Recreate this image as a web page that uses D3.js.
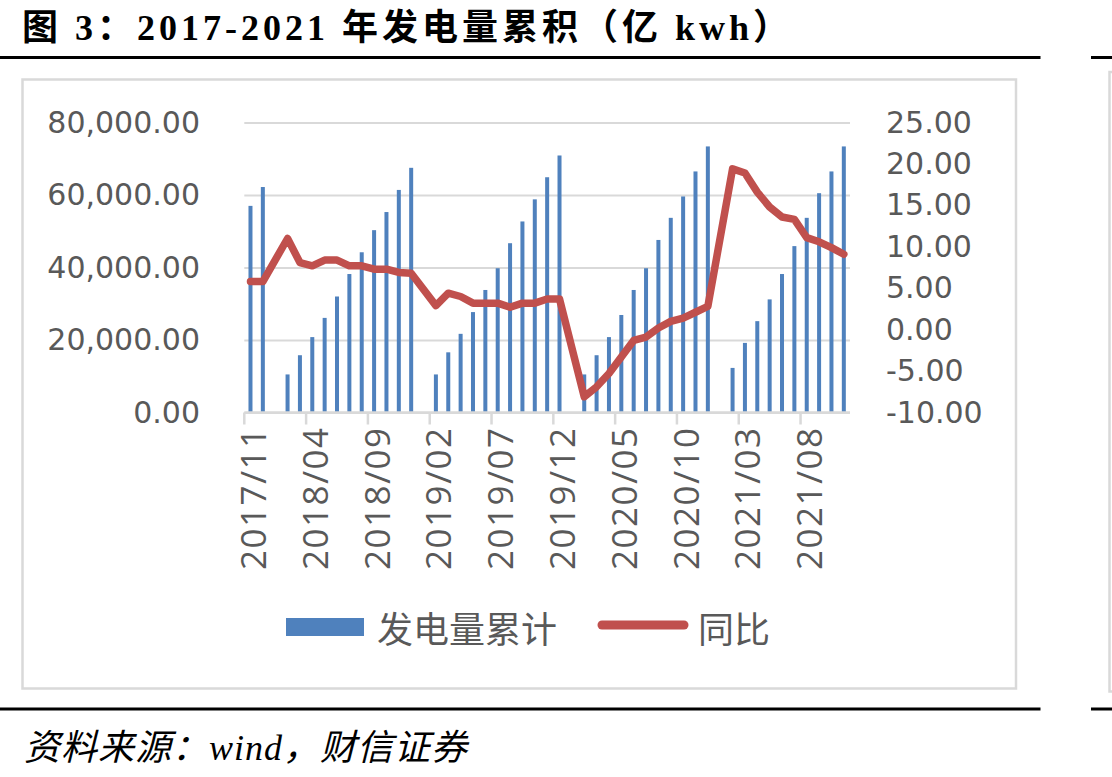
<!DOCTYPE html>
<html>
<head>
<meta charset="utf-8">
<script src="https://cdn.jsdelivr.net/npm/d3@7"></script>
<style>
  body { margin: 0; background: #fff; }
  svg { display: block; }
</style>
</head>
<body>
<div id="chart"></div>
<script>
// monthly data, January is not published so those months are absent
const months = [
  '2017/11', '2017/12',
  '2018/02', '2018/03', '2018/04', '2018/05', '2018/06', '2018/07', '2018/08', '2018/09', '2018/10', '2018/11', '2018/12',
  '2019/02', '2019/03', '2019/04', '2019/05', '2019/06', '2019/07', '2019/08', '2019/09', '2019/10', '2019/11', '2019/12',
  '2020/02', '2020/03', '2020/04', '2020/05', '2020/06', '2020/07', '2020/08', '2020/09', '2020/10', '2020/11', '2020/12',
  '2021/02', '2021/03', '2021/04', '2021/05', '2021/06', '2021/07', '2021/08', '2021/09', '2021/10', '2021/11'
]
const generation = [
  57000, 62200,
  10500, 15800, 20800, 26100, 32000, 38200, 44200, 50300, 55300, 61400, 67500,
  10500, 16600, 21700, 27700, 33800, 39800, 46700, 52700, 58800, 64900, 70900,
  10500, 15800, 20800, 26900, 33800, 39800, 47600, 53700, 59600, 66500, 73400,
  12300, 19200, 25200, 31200, 38200, 45900, 53700, 60500, 66500, 73400
]
const yoy = [
  5.8, 5.8,
  11.0, 8.1, 7.7, 8.4, 8.4, 7.7, 7.7, 7.3, 7.3, 6.9, 6.8,
  2.9, 4.4, 4.0, 3.2, 3.2, 3.2, 2.7, 3.2, 3.2, 3.7, 3.7,
  -8.1, -6.9, -5.3, -3.3, -1.3, -0.9, 0.2, 1.0, 1.4, 2.1, 2.8,
  19.4, 18.9, 16.6, 14.8, 13.6, 13.3, 11.1, 10.6, 9.9, 9.1
]
const tickLabels = ['2017/11', '2018/04', '2018/09', '2019/02', '2019/07', '2019/12', '2020/05', '2020/10', '2021/03', '2021/08']
const leftTicks = [0, 20000, 40000, 60000, 80000]
const rightTicks = [-10, -5, 0, 5, 10, 15, 20, 25]
const seriesNames = ['发电量累计', '同比']
const title = '图 3：2017-2021 年发电量累积（亿 kwh）'
const source = '资料来源：wind，财信证券'

const W = 1112
const H = 777
const plot = { left: 244.3, right: 850, top: 122.5, bottom: 412.5 }
const blue = '#4F81BD'
const red = '#C0504D'
const grid = '#D9D9D9'
const textGray = '#595959'
const axisFont = "'Open Sans', 'Noto Sans', sans-serif"
const valueFont = "'DejaVu Sans', sans-serif"
const cjkFont = "'Noto Sans CJK SC', sans-serif"

const svg = d3.select('#chart').append('svg')
  .attr('width', W)
  .attr('height', H)

// title, rules and frame
svg.append('text')
  .attr('x', 22)
  .attr('y', 40)
  .attr('font-family', "'Liberation Serif', 'Noto Sans CJK SC', serif")
  .attr('font-weight', 'bold')
  .attr('font-size', 36)
  .attr('letter-spacing', 4)
  .attr('fill', '#000')
  .text(title)
for (const y of [57.5, 709]) {
  svg.append('path').attr('d', `M0,${y}H1040.5`).attr('stroke', '#000').attr('stroke-width', 3)
  svg.append('path').attr('d', `M1091,${y}H1112`).attr('stroke', '#000').attr('stroke-width', 3)
}
svg.append('rect')
  .attr('x', 22.5).attr('y', 79.5)
  .attr('width', 993.5).attr('height', 609)
  .attr('fill', 'none').attr('stroke', grid).attr('stroke-width', 2.5)
svg.append('path')
  .attr('d', 'M1113,72H1109.5V691.5H1113')
  .attr('fill', 'none').attr('stroke', grid).attr('stroke-width', 2.5)
svg.append('text')
  .attr('x', 24)
  .attr('y', 760)
  .attr('font-family', "'Liberation Serif', 'Noto Sans CJK SC', serif")
  .attr('font-style', 'italic')
  .attr('font-size', 36)
  .attr('letter-spacing', 1)
  .attr('fill', '#000')
  .text(source)

// scales: every month in range gets a slot, missing Januaries stay empty
const allMonths = d3.timeMonth.range(new Date(2017, 10, 1), new Date(2021, 11, 1))
  .map(d3.timeFormat('%Y/%m'))
const x = d3.scaleBand().domain(allMonths).range([plot.left, plot.right])
const yl = d3.scaleLinear().domain([0, 80000]).range([plot.bottom, plot.top])
const yr = d3.scaleLinear().domain([-10, 25]).range([plot.bottom, plot.top])
const loc = d3.formatLocale({ decimal: '.', thousands: ',', grouping: [3], currency: ['', ''], minus: '-' })

// gridlines
svg.append('g')
  .attr('transform', `translate(${plot.left},0)`)
  .call(d3.axisLeft(yl).tickValues(leftTicks).tickSize(-(plot.right - plot.left)).tickFormat(''))
  .call((g) => g.select('.domain').remove())
  .call((g) => g.selectAll('line').attr('stroke', grid).attr('stroke-width', 2))

// left axis labels
svg.append('g')
  .attr('transform', 'translate(200,0)')
  .call(d3.axisLeft(yl).tickValues(leftTicks).tickSize(0).tickPadding(0).tickFormat(loc.format(',.2f')))
  .call((g) => g.select('.domain').remove())
  .call((g) => g.selectAll('text').attr('font-family', valueFont).attr('font-size', 30).attr('fill', textGray))

// right axis labels
svg.append('g')
  .attr('transform', 'translate(886,0)')
  .call(d3.axisRight(yr).tickValues(rightTicks).tickSize(0).tickPadding(0).tickFormat(loc.format('.2f')))
  .call((g) => g.select('.domain').remove())
  .call((g) => g.selectAll('text').attr('font-family', valueFont).attr('font-size', 30).attr('fill', textGray))

// bars
const data = months.map((m, i) => ({ m: m, v: generation[i], r: yoy[i] }))
const barW = 4
svg.selectAll('.bar')
  .data(data)
  .enter()
  .append('rect')
  .attr('class', 'bar')
  .attr('x', (d) => x(d.m) + x.bandwidth() / 2 - barW / 2)
  .attr('y', (d) => yl(d.v))
  .attr('width', barW)
  .attr('height', (d) => yl(0) - yl(d.v))
  .attr('fill', blue)

// x axis: ticks on slot edges, labels on slot centres
const xAxis = svg.append('g')
  .attr('transform', `translate(0,${plot.bottom})`)
  .call(d3.axisBottom(x).tickValues(tickLabels).tickSize(12).tickPadding(0))
xAxis.select('.domain')
  .attr('d', `M${plot.left},0H${plot.right}`)
  .attr('stroke', grid).attr('stroke-width', 2.5)
xAxis.selectAll('line')
  .attr('x1', -x.bandwidth() / 2).attr('x2', -x.bandwidth() / 2)
  .attr('stroke', grid).attr('stroke-width', 2.5)
xAxis.selectAll('text')
  .attr('y', 0)
  .attr('dy', 0)
  .attr('transform', 'translate(2,14) rotate(-90)')
  .attr('text-anchor', 'end')
  .attr('dominant-baseline', 'central')
  .attr('font-family', axisFont)
  .attr('font-size', 35)
  .attr('letter-spacing', 1.5)
  .attr('fill', textGray)

// yoy line
const line = d3.line()
  .x((d) => x(d.m) + x.bandwidth() / 2)
  .y((d) => yr(d.r))
svg.append('path')
  .datum(data)
  .attr('d', line)
  .attr('fill', 'none')
  .attr('stroke', red)
  .attr('stroke-width', 7.5)
  .attr('stroke-linejoin', 'round')
  .attr('stroke-linecap', 'round')

// legend
const lg = svg.append('g')
lg.append('rect')
  .attr('x', 286).attr('y', 618)
  .attr('width', 78).attr('height', 18)
  .attr('fill', blue)
lg.append('path')
  .attr('d', 'M602,625H684')
  .attr('stroke', red).attr('stroke-width', 9).attr('stroke-linecap', 'round')
lg.selectAll('.lg-text')
  .data(seriesNames)
  .enter()
  .append('text')
  .attr('x', (d, i) => [377, 698][i])
  .attr('y', 627)
  .attr('dominant-baseline', 'central')
  .attr('font-family', cjkFont)
  .attr('font-size', 36)
  .attr('fill', textGray)
  .text((d) => d)
</script>
</body>
</html>
